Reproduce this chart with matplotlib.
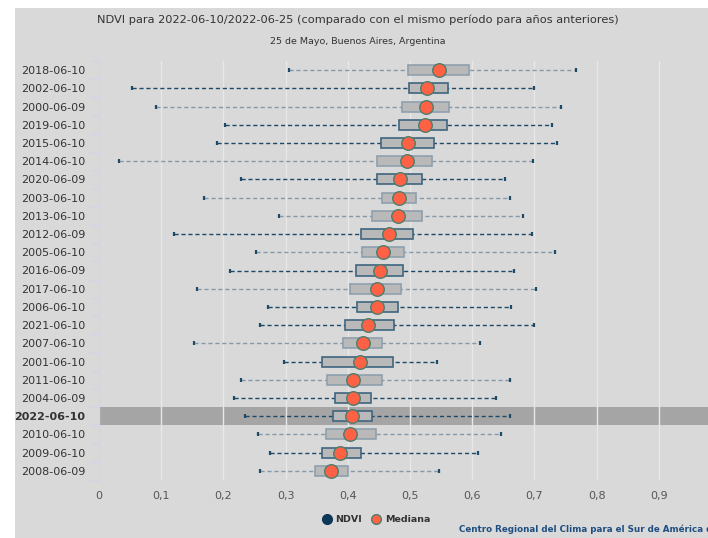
import numpy as np
from matplotlib import pyplot as plt
from matplotlib.lines import Line2D
from matplotlib.patches import Rectangle

# periodos (de arriba hacia abajo)
periodos = ['2018-06-10', '2002-06-10', '2000-06-09', '2019-06-10', '2015-06-10',
            '2014-06-10', '2020-06-09', '2003-06-10', '2013-06-10', '2012-06-09',
            '2005-06-10', '2016-06-09', '2017-06-10', '2006-06-10', '2021-06-10',
            '2007-06-10', '2001-06-10', '2011-06-10', '2004-06-09', '2022-06-10',
            '2010-06-10', '2009-06-10', '2008-06-09']

# valores de NDVI
minimo = [0.306, 0.053, 0.092, 0.203, 0.190, 0.032, 0.228, 0.169, 0.289, 0.121,
          0.253, 0.210, 0.158, 0.271, 0.259, 0.153, 0.297, 0.229, 0.217, 0.235,
          0.255, 0.275, 0.259]
q1 = [0.496, 0.498, 0.487, 0.483, 0.453, 0.447, 0.447, 0.455, 0.439, 0.422,
      0.423, 0.413, 0.404, 0.414, 0.395, 0.392, 0.359, 0.367, 0.379, 0.377,
      0.365, 0.359, 0.347]
mediana = [0.547, 0.528, 0.526, 0.524, 0.496, 0.495, 0.484, 0.483, 0.481, 0.466,
           0.456, 0.451, 0.447, 0.447, 0.432, 0.424, 0.420, 0.408, 0.408, 0.407,
           0.403, 0.388, 0.373]
q3 = [0.595, 0.561, 0.563, 0.559, 0.538, 0.535, 0.520, 0.509, 0.520, 0.505,
      0.491, 0.488, 0.485, 0.481, 0.474, 0.455, 0.472, 0.455, 0.438, 0.439,
      0.446, 0.422, 0.401]
maximo = [0.767, 0.700, 0.742, 0.729, 0.736, 0.698, 0.653, 0.660, 0.682, 0.696,
          0.733, 0.667, 0.702, 0.662, 0.699, 0.613, 0.543, 0.660, 0.638, 0.660,
          0.647, 0.609, 0.547]
# 1 = serie oscura, 0 = serie clara
oscuro = [0, 1, 0, 1, 1, 0, 1, 0, 0, 1, 0, 1, 0, 1, 1, 0, 1, 0, 1, 1, 0, 1, 0]

actual = '2022-06-10'
xticks = np.arange(0, 1.0, 0.1)

# colores
fondo = '#d9d9d9'
c_oscuro = '#1d4a68'
c_claro = '#8699a8'
borde_oscuro = '#3f6580'
borde_claro = '#8ea0ad'
naranja = '#ff6145'

fig = plt.figure(figsize=(7.08, 5.38), dpi=100, facecolor='white')
fig.patches.append(Rectangle((15/708, 0), 1, 530/538, transform=fig.transFigure,
                             facecolor=fondo, edgecolor='none', zorder=-10))

ax = fig.add_axes([99/708, 58/538, 622/708, 419/538])
ax.set_facecolor(fondo)
for sp in ax.spines.values():
    sp.set_visible(False)

y = np.arange(len(periodos))

# franja del periodo actual
i_act = periodos.index(actual)
ax.axhspan(i_act - 0.5, i_act + 0.5, color='#a5a5a5', zorder=0, lw=0)

# grilla vertical
for xt in xticks[1:]:
    ax.axvline(xt, color='#e8e8e8', lw=1, zorder=1)
ax.axvline(0, color='#cdd6e6', lw=1, zorder=1)

for i in range(len(periodos)):
    cw = c_oscuro if oscuro[i] else c_claro
    cb = borde_oscuro if oscuro[i] else borde_claro
    ax.hlines(y[i], minimo[i], maximo[i], colors=cw, linestyles=(0, (3, 2)),
              lw=1, zorder=2)
    ax.plot([minimo[i], maximo[i]], [y[i], y[i]], ls='none', marker='|',
            ms=3.5, mew=1.6, color=c_oscuro, zorder=3)
    ax.barh(y[i], q3[i] - q1[i], left=q1[i], height=0.55, color='#b9b9b9',
            edgecolor=cb, lw=1.2, zorder=3)

ax.scatter(mediana, y, s=95, color=naranja, edgecolors='#4d7d6c', lw=1, zorder=4)

ax.set_xlim(0, 1)
ax.set_ylim(len(periodos) - 0.5, -0.5)
ax.set_xticks(xticks)
ax.set_xticklabels(['0'] + [('%.1f' % v).replace('.', ',') for v in xticks[1:]])
ax.tick_params(axis='x', length=0, pad=8, labelsize=8, labelcolor='#555555')
ax.set_yticks(y)
ax.set_yticklabels(periodos)
ax.set_yticks(np.arange(-0.5, len(periodos)), minor=True)
ax.tick_params(axis='y', which='major', length=0, pad=10, labelsize=8,
               labelcolor='#333333')
ax.tick_params(axis='y', which='minor', length=6, color='#cdd6e6', width=1)
for lbl in ax.get_yticklabels():
    if lbl.get_text() == actual:
        lbl.set_fontweight('bold')

# titulos
fig.text(0.505, 1 - 20/538, 'NDVI para 2022-06-10/2022-06-25 (comparado con el mismo período para años anteriores)',
         ha='center', va='center', fontsize=8.2, color='#333333')
fig.text(0.505, 1 - 42/538, '25 de Mayo, Buenos Aires, Argentina',
         ha='center', va='center', fontsize=6.8, color='#333333')

# leyenda
handles = [Line2D([], [], ls='none', marker='o', ms=7, color='#0d3756'),
           Line2D([], [], ls='none', marker='o', ms=7, color=naranja,
                  markeredgecolor='#4d7d6c')]
leg = fig.legend(handles, ['NDVI', 'Mediana'], ncol=2, frameon=False,
                 loc='center', bbox_to_anchor=(376/708, 1 - 520/538),
                 handletextpad=0.4, columnspacing=1.0, handlelength=1,
                 prop={'size': 6.8, 'weight': 'bold'})
for t in leg.get_texts():
    t.set_color('#333333')

fig.text(459/708, 1 - 529/538, 'Centro Regional del Clima para el Sur de América del Sur',
         ha='left', va='center', fontsize=6.3, fontweight='bold', color='#1f4f80')

fig.savefig('out.png', dpi=100, facecolor='white')
